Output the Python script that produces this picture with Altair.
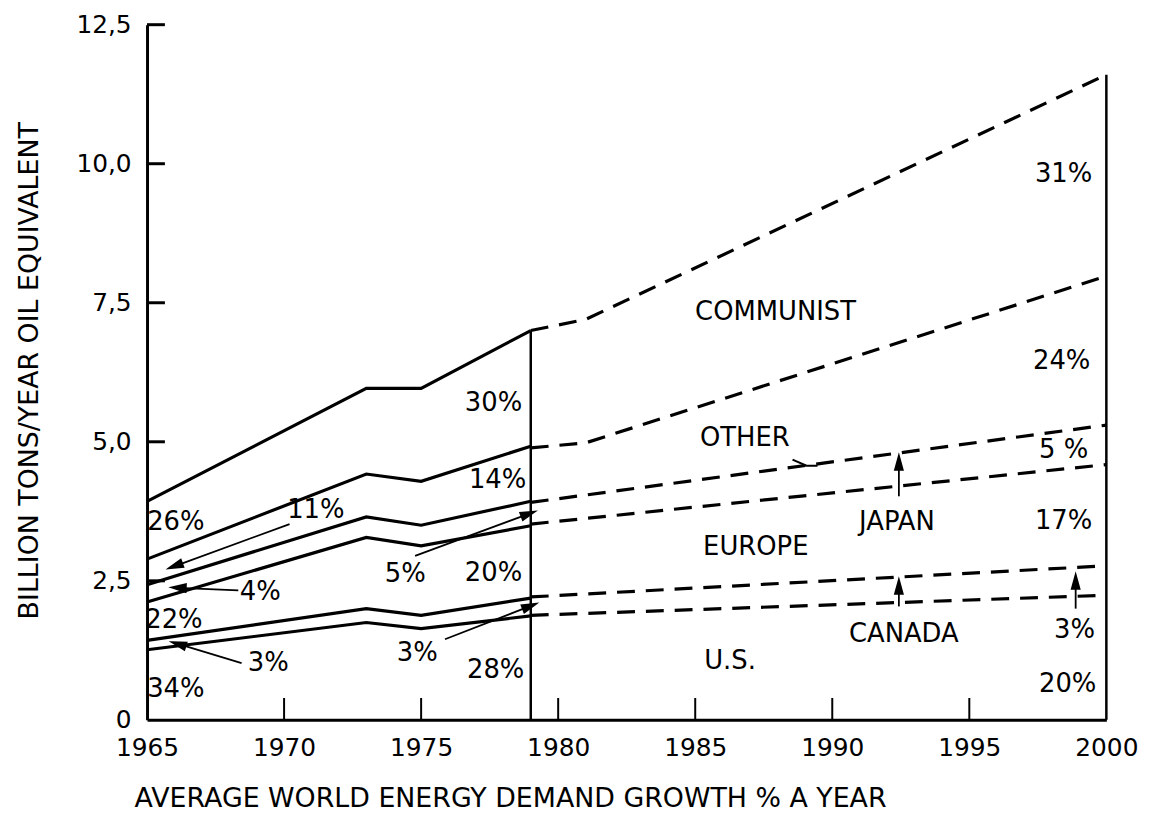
import math
import altair as alt
import pandas as pd

FONT = "DejaVu Sans"

# ---- historical (solid) cumulative curves, billion tons / year oil equivalent
hist_years = [1965, 1973, 1975, 1979]
hist_us = [1.26, 1.75, 1.64, 1.87]
hist_canada = [1.43, 2.00, 1.88, 2.19]
hist_europe = [2.12, 3.28, 3.13, 3.49]
hist_japan = [2.43, 3.65, 3.50, 3.93]
hist_other = [2.89, 4.42, 4.29, 4.92]
hist_total = [3.93, 5.96, 5.96, 7.00]

# ---- projected (dashed) cumulative curves
proj_years = [1979, 1981, 2000]
proj_us = [1.88, None, 2.24]
proj_canada = [2.21, None, 2.77]
proj_europe = [3.52, None, 4.59]
proj_japan = [3.91, None, 5.30]
proj_other = [4.89, 4.98, 7.98]
proj_total = [7.00, 7.20, 11.60]

series_names = ["us", "canada", "europe", "japan", "other", "total"]
hist_series = [hist_us, hist_canada, hist_europe, hist_japan, hist_other, hist_total]
proj_series = [proj_us, proj_canada, proj_europe, proj_japan, proj_other, proj_total]

# ---- axis ticks
x_tick_values = [1965, 1970, 1975, 1980, 1985, 1990, 1995, 2000]
x_inner_ticks = [1970, 1975, 1980, 1985, 1990, 1995]
y_tick_values = [0, 2.5, 5.0, 7.5, 10.0, 12.5]
y_inner_ticks = [2.5, 5.0, 7.5, 10.0, 12.5]

# ---- annotation texts
label_text = ["26%", "11%", "4%", "22%", "3%", "34%",
              "30%", "14%", "5%", "20%", "3%", "28%",
              "COMMUNIST", "OTHER", "JAPAN", "EUROPE", "CANADA", "U.S.",
              "31%", "24%", "5 %", "17%", "3%", "20%"]
label_year = [1966.05, 1971.16, 1969.13, 1965.98, 1969.42, 1966.05,
              1977.64, 1977.79, 1974.42, 1977.64, 1974.86, 1977.72,
              1987.93, 1986.81, 1992.36, 1987.21, 1992.61, 1986.27,
              1998.44, 1998.37, 1998.44, 1998.44, 1998.84, 1998.59]
label_value = [3.55, 3.77, 2.29, 1.80, 1.02, 0.55,
               5.70, 4.32, 2.63, 2.64, 1.21, 0.89,
               7.34, 5.07, 3.55, 3.11, 1.55, 1.05,
               9.82, 6.45, 4.86, 3.57, 1.61, 0.64]

# ---- arrows (tail -> head)
arrow_year_from = [1970.20, 1968.33, 1968.45, 1974.78, 1975.87, 1992.43, 1992.43, 1998.88]
arrow_value_from = [3.52, 2.33, 1.02, 2.95, 1.45, 4.02, 2.04, 2.00]
arrow_year_to = [1966.04, 1966.16, 1966.16, 1978.90, 1978.95, 1992.43, 1992.43, 1998.88]
arrow_value_to = [2.77, 2.375, 1.36, 3.70, 2.04, 4.62, 2.39, 2.48]

# small pointer from "OTHER" to its boundary line
pointer_year = [1988.55, 1989.06, 1989.46]
pointer_value = [4.68, 4.57, 4.57]

# ---------------------------------------------------------------- tables
W, H = 966, 700
X0, X1 = 1965, 2000
Y0, Y1 = 0, 12.5
px_per_year = W / (X1 - X0)
px_per_unit = H / (Y1 - Y0)
YTICK_PX = 18  # inward tick length on the value axis

rows = []
for name, vals in zip(series_names, hist_series):
    for yr, v in zip(hist_years, vals):
        rows.append({"series": name, "year": yr, "value": v, "phase": "hist"})
for name, vals in zip(series_names, proj_series):
    for yr, v in zip(proj_years, vals):
        if v is not None:
            rows.append({"series": name, "year": yr, "value": v, "phase": "proj"})
lines_df = pd.DataFrame(rows)

verticals_df = pd.DataFrame({
    "year": [hist_years[-1], proj_years[-1]],
    "value": [0, 0],
    "top": [hist_total[-1], proj_total[-1]],
})

labels_df = pd.DataFrame({"year": label_year, "value": label_value, "text": label_text})

arrow_rows = []
head_rows = []
for i, (xa, ya, xb, yb) in enumerate(zip(arrow_year_from, arrow_value_from, arrow_year_to, arrow_value_to)):
    arrow_rows.append({"id": i, "year": xa, "value": ya, "order": 0})
    arrow_rows.append({"id": i, "year": xb, "value": yb, "order": 1})
    dx = (xb - xa) * px_per_year
    dy = -(yb - ya) * px_per_unit
    ang = math.degrees(math.atan2(dx, -dy)) % 360
    head_rows.append({"year": xb, "value": yb, "angle": ang})
arrows_df = pd.DataFrame(arrow_rows)
heads_df = pd.DataFrame(head_rows)

pointer_df = pd.DataFrame({"year": pointer_year, "value": pointer_value})

# tick positions sit on the axes (x ticks on the y origin, y ticks on the x origin)
xticks_df = pd.DataFrame({"year": x_inner_ticks, "value": [Y0] * len(x_inner_ticks)})
yticks_df = pd.DataFrame({
    "year": [X0] * len(y_inner_ticks),
    "year_end": [X0 + YTICK_PX / px_per_year] * len(y_inner_ticks),
    "value": y_inner_ticks,
})

# ---------------------------------------------------------------- encodings
x_scale = alt.Scale(domain=[X0, X1], nice=False, zero=False)
y_scale = alt.Scale(domain=[Y0, Y1], nice=False)

x_axis = alt.Axis(
    values=x_tick_values, format="d", ticks=False, grid=False,
    domain=True, domainColor="black", domainWidth=3,
    labelFont=FONT, labelFontSize=25, labelColor="black", labelPadding=16,
    labelFlush=False,
    title="AVERAGE WORLD ENERGY DEMAND GROWTH % A YEAR",
    titleFont=FONT, titleFontSize=27, titleFontWeight="normal", titleColor="black",
    titleX=-13, titleY=79, titleAlign="left", titleBaseline="middle",
)
y_axis = alt.Axis(
    values=y_tick_values, ticks=False, grid=False,
    domain=True, domainColor="black", domainWidth=3,
    labelExpr="datum.value == 0 ? '0' : replace(format(datum.value, '.1f'), '.', ',')",
    labelFont=FONT, labelFontSize=25, labelColor="black", labelPadding=16,
    labelFlush=False,
    title="BILLION TONS/YEAR OIL EQUIVALENT",
    titleFont=FONT, titleFontSize=27, titleFontWeight="normal", titleColor="black",
    titleX=-118, titleY=348, titleAngle=270, titleAlign="center", titleBaseline="middle",
)

x_enc = alt.X("year:Q", scale=x_scale, axis=x_axis)
y_enc = alt.Y("value:Q", scale=y_scale, axis=y_axis)

hist_layer = alt.Chart(lines_df).transform_filter("datum.phase == 'hist'").mark_line(
    color="black", strokeWidth=3.2, strokeJoin="miter"
).encode(x=x_enc, y=y_enc, detail="series:N")

proj_layer = alt.Chart(lines_df).transform_filter("datum.phase == 'proj'").mark_line(
    color="black", strokeWidth=3.2, strokeDash=[18, 11]
).encode(x=x_enc, y=y_enc, detail="series:N")

vert_layer = alt.Chart(verticals_df).mark_rule(color="black", strokeWidth=2.5).encode(
    x=x_enc, y=y_enc, y2=alt.Y2("top:Q")
)

# inward tick marks (short strokes pointing into the plot)
xtick_layer = alt.Chart(xticks_df).mark_point(
    shape="M0,0L0,-2", filled=False, color="black", stroke="black",
    strokeWidth=2, size=484, opacity=1
).encode(x=x_enc, y=y_enc)
ytick_layer = alt.Chart(yticks_df).mark_rule(
    color="black", strokeWidth=3, opacity=1
).encode(x=x_enc, x2=alt.X2("year_end:Q"), y=y_enc)

arrow_layer = alt.Chart(arrows_df).mark_line(color="black", strokeWidth=1.8).encode(
    x=x_enc, y=y_enc, detail="id:N", order="order:Q"
)
head_layer = alt.Chart(heads_df).mark_point(
    shape="M0,-1L0.55,1L-0.55,1Z", filled=True, fill="black", stroke="black",
    size=190, opacity=1
).encode(x=x_enc, y=y_enc, angle=alt.Angle("angle:Q", scale=None))

pointer_layer = alt.Chart(pointer_df).mark_line(color="black", strokeWidth=2).encode(
    x=x_enc, y=y_enc
)

text_layer = alt.Chart(labels_df).mark_text(
    font=FONT, fontSize=26, color="black", align="center", baseline="middle"
).encode(x=x_enc, y=y_enc, text="text:N")

chart = alt.layer(
    hist_layer, proj_layer, vert_layer, xtick_layer, ytick_layer,
    arrow_layer, head_layer, pointer_layer, text_layer,
).properties(
    width=W, height=H,
    padding={"left": 140, "top": 14, "right": 52, "bottom": 93},
    autosize=alt.AutoSizeParams(type="none"),
    background="white",
).configure_view(stroke=None)

chart.save("out.html", embed_options={"renderer": "svg", "actions": False})
